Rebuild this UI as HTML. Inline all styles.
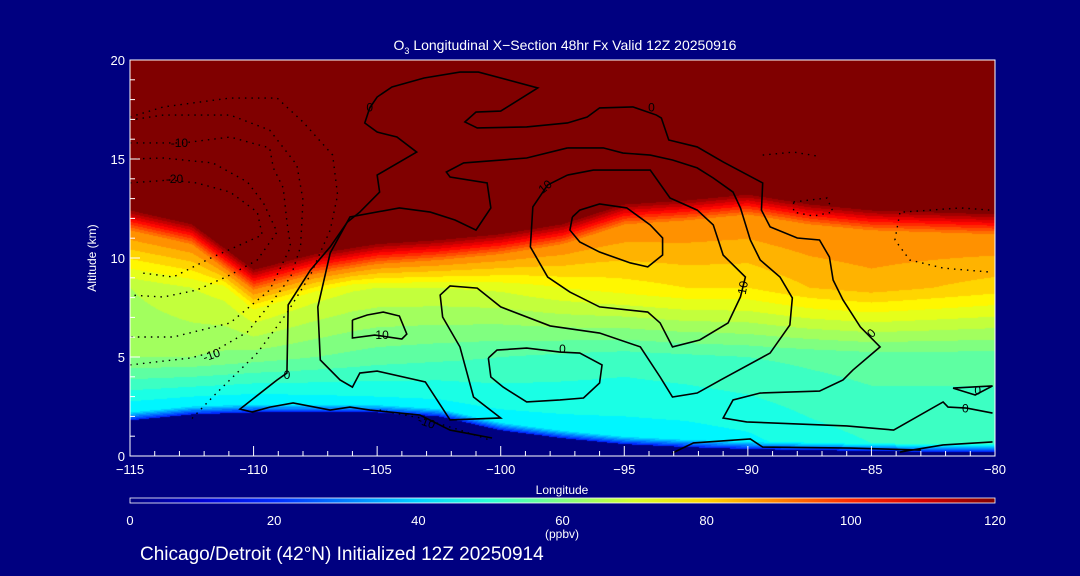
<!DOCTYPE html>
<html><head><meta charset="utf-8">
<style>
html,body{margin:0;padding:0;background:#000080;}
#wrap{position:relative;width:1080px;height:576px;background:#000080;overflow:hidden;font-family:"Liberation Sans",sans-serif;color:#fff;}
canvas{position:absolute;left:130px;top:60px;}
svg{position:absolute;left:0;top:0;}
</style></head>
<body>
<div id="wrap">
<canvas id="heat" width="865" height="396"></canvas>
<svg id="ov" width="1080" height="576"></svg>
</div>
<script>
// ---- data ----
const longitudes = [-115,-112.5,-110,-107.5,-105,-102.5,-100,-97.5,-95,-92.5,-90,-87.5,-85,-82.5,-80];
const terrainKm  = [1.8,2.1,2.2,2.2,2.2,2.0,1.3,0.9,0.6,0.45,0.35,0.3,0.25,0.2,0.2];
const tropopauseKm = [12.4,11.7,9.4,10.2,10.7,10.9,11.2,11.7,12.7,12.9,13.2,12.7,12.4,12.3,12.2];
const o3LowPpb   = [44,44,44,45,46,46,46,46,46,46,47,50,52,52,52];
const o3MidPpb   = [64,64,62,60,58,57,56,55,54,55,56,57,58,58,58];
const o3UpperPpb = [68,72,76,74,72,72,73,76,78,80,80,84,86,84,82];
const xTicks = [-115,-110,-105,-100,-95,-90,-85,-80];
const yTicks = [0,5,10,15,20];
const cbTicks = [0,20,40,60,80,100,120];

const contourA = [[-100.35,0.91],[-102.05,1.31],[-103.27,2.07],[-105.29,2.32],[-106.1,2.47],[-106.9,2.32],[-108.4,2.68],[-109.34,2.47],[-110.06,2.22],[-110.55,2.37],[-109.05,3.84],[-108.65,4.19],[-108.6,7.63],[-107.7,9.39],[-106.9,10.56],[-106.2,11.82],[-105.7,12.32],[-104.9,13.33],[-105.0,14.19],[-103.4,15.35],[-104.2,16.11],[-105.0,16.36],[-105.5,16.82],[-105.3,17.58],[-105.0,18.13],[-104.4,18.64],[-103.1,19.09],[-101.65,19.39],[-100.9,19.39],[-98.5,18.59],[-100.0,17.42],[-101.0,17.37],[-101.45,16.87],[-100.95,16.57],[-98.95,16.62],[-97.3,16.82],[-96.5,17.12],[-96.0,17.58],[-94.65,17.63],[-93.7,17.22],[-93.5,17.07],[-93.2,15.96],[-92.05,15.61],[-91.0,14.85],[-89.4,13.79],[-89.45,12.42],[-89.1,11.57],[-88.0,11.01],[-87.1,10.91],[-86.7,10.05],[-86.55,8.89],[-86.15,7.88],[-85.45,6.52],[-84.65,5.51],[-85.75,4.34],[-86.15,3.84],[-87.1,3.28],[-89.5,3.18],[-90.6,2.83],[-91.0,1.92],[-90.05,1.72],[-86.0,1.52],[-84.1,1.31],[-82.1,2.73],[-81.9,2.47],[-81.15,2.42],[-80.1,2.17]];
const contourC = [[-97.3,15.56],[-98.95,15.05],[-101.5,14.8],[-102.2,14.34],[-102.05,14.09],[-100.55,13.79],[-100.4,12.53],[-101.0,11.41],[-101.85,11.92],[-102.85,12.32],[-104.1,12.53],[-106.1,12.07],[-106.9,10.25],[-107.4,7.53],[-107.3,4.85],[-106.5,3.84],[-106.0,3.48],[-105.7,4.19],[-105.0,4.29],[-103.05,3.74],[-102.05,1.82],[-100.0,1.92],[-101.1,2.98],[-101.65,5.51],[-102.35,7.02],[-102.45,8.13],[-102.05,8.59],[-100.95,8.48],[-100.0,7.53],[-98.0,6.57],[-96.0,6.21],[-94.35,5.51],[-93.55,3.99],[-93.05,2.98],[-92.05,3.18],[-91.1,3.84],[-89.1,5.2],[-88.3,6.62],[-88.2,7.98],[-88.7,9.04],[-89.5,9.9],[-89.9,10.91],[-90.3,12.53],[-90.6,13.33],[-91.4,14.04],[-92.05,14.55],[-93.05,14.95],[-93.95,15.2],[-95.05,15.3],[-95.85,15.56],[-97.3,15.56]];
const contourD = [[-97.3,14.19],[-96.25,14.44],[-93.95,14.44],[-93.15,13.03],[-92.05,12.42],[-91.4,11.67],[-91.0,10.15],[-90.1,9.04],[-90.2,8.54],[-90.3,8.03],[-90.8,6.72],[-91.95,5.86],[-93.05,5.51],[-93.55,6.72],[-94.05,7.27],[-96.0,7.53],[-97.2,8.28],[-98.1,9.04],[-98.8,10.56],[-98.7,12.58],[-98.1,13.69],[-97.3,14.19]];
const contourE = [[-97.1,12.07],[-97.2,11.41],[-96.8,10.81],[-96.0,10.3],[-94.75,9.75],[-94.05,9.55],[-93.45,10.15],[-93.45,11.01],[-93.95,11.67],[-94.9,12.53],[-96.0,12.73],[-96.8,12.42],[-97.1,12.07]];
const contourF = [[-106.0,6.87],[-106.0,5.96],[-105.1,6.11],[-104.0,5.91],[-103.8,6.16],[-104.1,7.07],[-104.75,7.27],[-105.4,7.12],[-106.0,6.87]];
const contourG = [[-100.5,4.95],[-100.4,3.99],[-99.9,3.48],[-98.95,2.73],[-97.6,2.83],[-96.65,2.93],[-96.0,3.69],[-95.9,4.6],[-96.8,5.2],[-97.6,5.25],[-98.95,5.45],[-100.15,5.35],[-100.5,4.95]];
const contourH = [[-93.05,0.15],[-92.2,0.66],[-89.9,0.86],[-89.4,0.45],[-85.85,0.4],[-83.0,0.3]];
const contourI = [[-83.85,0.2],[-82.1,0.56],[-80.1,0.71]];
const contourJ = [[-81.7,3.43],[-80.1,3.54],[-80.8,3.08],[-81.7,3.43]];
const dottedP1 = [[-115,17.12],[-113.65,17.63],[-110.95,18.08],[-109.05,18.08],[-108.0,16.87],[-106.8,15.2],[-106.6,13.18],[-106.9,11.41],[-107.7,9.14],[-108.65,7.22],[-109.85,5.2],[-111.5,3.18],[-112.55,1.82]];
const dottedP2 = [[-115,15.81],[-112.85,15.81],[-110.95,16.11],[-109.35,15.56],[-109.2,14.55],[-108.8,13.54],[-108.65,11.82],[-108.5,10.56],[-109.35,8.38],[-110.95,6.72],[-113.25,6.01],[-115,6.01]];
const dottedP3 = [[-115,4.6],[-112.55,4.95],[-111.65,5.25],[-110.25,6.26],[-109.2,7.88],[-108.5,9.04],[-108.1,10.56],[-108.0,12.93],[-108.25,14.7],[-109.35,16.46],[-110.95,17.22],[-113.65,17.22],[-115,16.97]];
const dottedP4 = [[-115,15.0],[-113.65,15.05],[-111.65,14.8],[-110.25,13.84],[-109.6,12.78],[-109.05,11.31],[-109.85,9.9],[-110.95,9.14],[-112.3,8.38],[-113.65,8.03],[-115,8.13]];
const dottedP5 = [[-115,13.79],[-113.4,13.94],[-112.3,13.79],[-110.95,13.33],[-109.85,12.32],[-109.65,11.16],[-111.65,10.05],[-113.25,9.04],[-114.5,9.24]];
const dottedR1 = [[-83.85,12.27],[-84.05,10.91],[-83.45,9.9],[-82.1,9.49],[-80.2,9.29]];
const dottedR2 = [[-83.7,12.32],[-81.4,12.53],[-80.2,12.42]];
const dottedR3 = [[-88.15,12.83],[-86.8,13.03],[-86.55,12.32],[-87.35,12.12],[-88.15,12.32],[-88.15,12.83]];
const dottedR4 = [[-89.4,15.2],[-88.15,15.35],[-87.2,15.15]];
const dottedB  = [[-104.9,2.32],[-103.25,1.92],[-101.65,1.31],[-100.45,0.81]];
const labelText = ["0","0","0","0","0","0","0","10","10","10","-10","-20","-10","-10"];
const labelPos = [[-105.3,17.6],[-93.9,17.6],[-108.65,4.1],[-97.5,5.4],[-85.0,6.2],[-81.2,2.4],[-80.7,3.3],[-104.8,6.1],[-98.2,13.6],[-90.2,8.5],[-113.0,15.8],[-113.2,14.0],[-111.7,5.1],[-103.0,1.7]];
const labelRot = [0,0,0,0,-45,0,0,0,-40,-80,0,0,-20,20];

// ---- axes ----
const X0=130,X1=995,Y0=456,Y1=60;
const xs = lon => X0 + (lon+115)/35*(X1-X0);
const ys = km => Y0 - km/20*(Y0-Y1);
function jet(t){
  const c=v=>Math.max(0,Math.min(1,v));
  return [c(Math.min(4*t-1.5,-4*t+4.5)),c(Math.min(4*t-0.5,-4*t+3.5)),c(Math.min(4*t+0.5,-4*t+2.5))];
}
function interpArr(arr,lon){
  let f=(lon+115)/2.5; let i=Math.floor(f); if(i<0)i=0; if(i>=arr.length-1) i=arr.length-2;
  const u=f-i; return arr[i]*(1-u)+arr[i+1]*u;
}
function ozone(lon,km){
  const terr=interpArr(terrainKm,lon), trop=interpArr(tropopauseKm,lon);
  if(km<terr) return 0;
  const lo=interpArr(o3LowPpb,lon), mid=interpArr(o3MidPpb,lon), up=interpArr(o3UpperPpb,lon);
  let pts=[[terr,20],[terr+0.4,lo],[5,mid],[Math.min(8.5,trop-2.0),up],[trop-1.0,92],[trop,120]];
  pts.sort((a,b)=>a[0]-b[0]);
  if(km>=pts[pts.length-1][0]) return 120;
  for(let i=0;i<pts.length-1;i++){
    if(km>=pts[i][0]&&km<=pts[i+1][0]){const d=pts[i+1][0]-pts[i][0]||1;const u=(km-pts[i][0])/d;return pts[i][1]+(pts[i+1][1]-pts[i][1])*u;}
  }
  return 120;
}
// heatmap
const cv=document.getElementById('heat'),ctx=cv.getContext('2d');
const W=cv.width,H=cv.height,img=ctx.createImageData(W,H);
for(let px=0;px<W;px++){
  const lon=-115+(px+0.5)/W*35;
  for(let py=0;py<H;py++){
    const km=(H-py-0.5)/H*20;
    let v=ozone(lon,km); v=Math.floor(v/4)*4;
    const c=jet(Math.min(1,v/120)); const k=(py*W+px)*4;
    img.data[k]=c[0]*255;img.data[k+1]=c[1]*255;img.data[k+2]=c[2]*255;img.data[k+3]=255;
  }
}
ctx.putImageData(img,0,0);

// overlay
const NS='http://www.w3.org/2000/svg', svg=document.getElementById('ov');
function mk(tag,attrs,parent){const e=document.createElementNS(NS,tag);for(const k in attrs)e.setAttribute(k,attrs[k]);(parent||svg).appendChild(e);return e;}
const defs=mk('defs',{});
const grad=mk('linearGradient',{id:'cbg',x1:'0',x2:'1',y1:'0',y2:'0'},defs);
for(let i=0;i<=12;i++){const c=jet(i/12);mk('stop',{offset:(i/12),'stop-color':`rgb(${c.map(v=>Math.round(v*255)).join(',')})`},grad);}

const contours=[contourA,contourC,contourD,contourE,contourF,contourG,contourH,contourI,contourJ];
const cNames=['contour-0-outer','contour-10-large','contour-10-upper','contour-10-inner','contour-10-small','contour-0-lower','contour-0-surface','contour-0-surface-east','contour-0-east'];
contours.forEach((c,i)=>{
  const p=mk('polyline',{points:c.map(q=>xs(q[0])+','+ys(q[1])).join(' '),fill:'none',stroke:'#000','stroke-width':1.6});
  
  
});
const dotted=[dottedP1,dottedP2,dottedP3,dottedP4,dottedP5,dottedR1,dottedR2,dottedR3,dottedR4,dottedB];
dotted.forEach((c,i)=>{
  const p=mk('polyline',{points:c.map(q=>xs(q[0])+','+ys(q[1])).join(' '),fill:'none',stroke:'#000','stroke-width':1.4,'stroke-dasharray':'1.5 5'});
  
  
});
labelText.forEach((t,i)=>{
  const x=xs(labelPos[i][0]),y=ys(labelPos[i][1]);
  const e=mk('text',{x:x,y:y+4,'font-size':12,'text-anchor':'middle',fill:'#000',transform:`rotate(${labelRot[i]} ${x} ${y})`});
  e.textContent=t;
  
  
});

// frame
const fr=mk('rect',{x:X0,y:Y1,width:X1-X0,height:Y0-Y1,fill:'none',stroke:'#fff','stroke-width':1});


for(let l=-115;l<=-80;l++){
  const maj=xTicks.includes(l);
  const t=mk('line',{x1:xs(l),x2:xs(l),y1:Y0,y2:Y0-(maj?10:5),stroke:'#fff','stroke-width':1});
  
  
}
for(let k=0;k<=20;k++){
  const maj=yTicks.includes(k);
  const t=mk('line',{x1:X0,x2:X0+(maj?10:5),y1:ys(k),y2:ys(k),stroke:'#fff','stroke-width':1});
  
  
}
xTicks.forEach(l=>{
  const e=mk('text',{x:xs(l),y:Y0+18,'font-size':13,'text-anchor':'middle',fill:'#fff'});
  e.textContent=(l<0?'\u2212':'')+Math.abs(l);
  
  
});
yTicks.forEach(k=>{
  const e=mk('text',{x:X0-5,y:ys(k)+5,'font-size':13,'text-anchor':'end',fill:'#fff'});
  e.textContent=k;
  
  
});
let e=mk('text',{x:562,y:494,'font-size':12,'text-anchor':'middle',fill:'#fff'});e.textContent='Longitude';


e=mk('text',{x:96,y:258,'font-size':12,'text-anchor':'middle',fill:'#fff',transform:'rotate(-90 96 258)'});e.textContent='Altitude (km)';


e=mk('text',{x:565,y:50,'font-size':14,'text-anchor':'middle',fill:'#fff'});
e.innerHTML='O<tspan font-size="9" dy="4">3</tspan><tspan dy="-4"> Longitudinal X\u2212Section 48hr  Fx Valid 12Z 20250916</tspan>';


// colorbar
e=mk('rect',{x:X0,y:498,width:X1-X0,height:5,fill:'url(#cbg)',stroke:'#fff','stroke-width':0.8});


cbTicks.forEach(v=>{
  const x=X0+v/120*(X1-X0);
  const t=mk('text',{x:x,y:525,'font-size':13,'text-anchor':'middle',fill:'#fff'});t.textContent=v;
  
  
});
e=mk('text',{x:562,y:538,'font-size':12,'text-anchor':'middle',fill:'#fff'});e.textContent='(ppbv)';


e=mk('text',{x:140,y:560,'font-size':19,fill:'#fff'});e.textContent='Chicago/Detroit (42\u00b0N) Initialized 12Z 20250914';


</script>
</body></html>
